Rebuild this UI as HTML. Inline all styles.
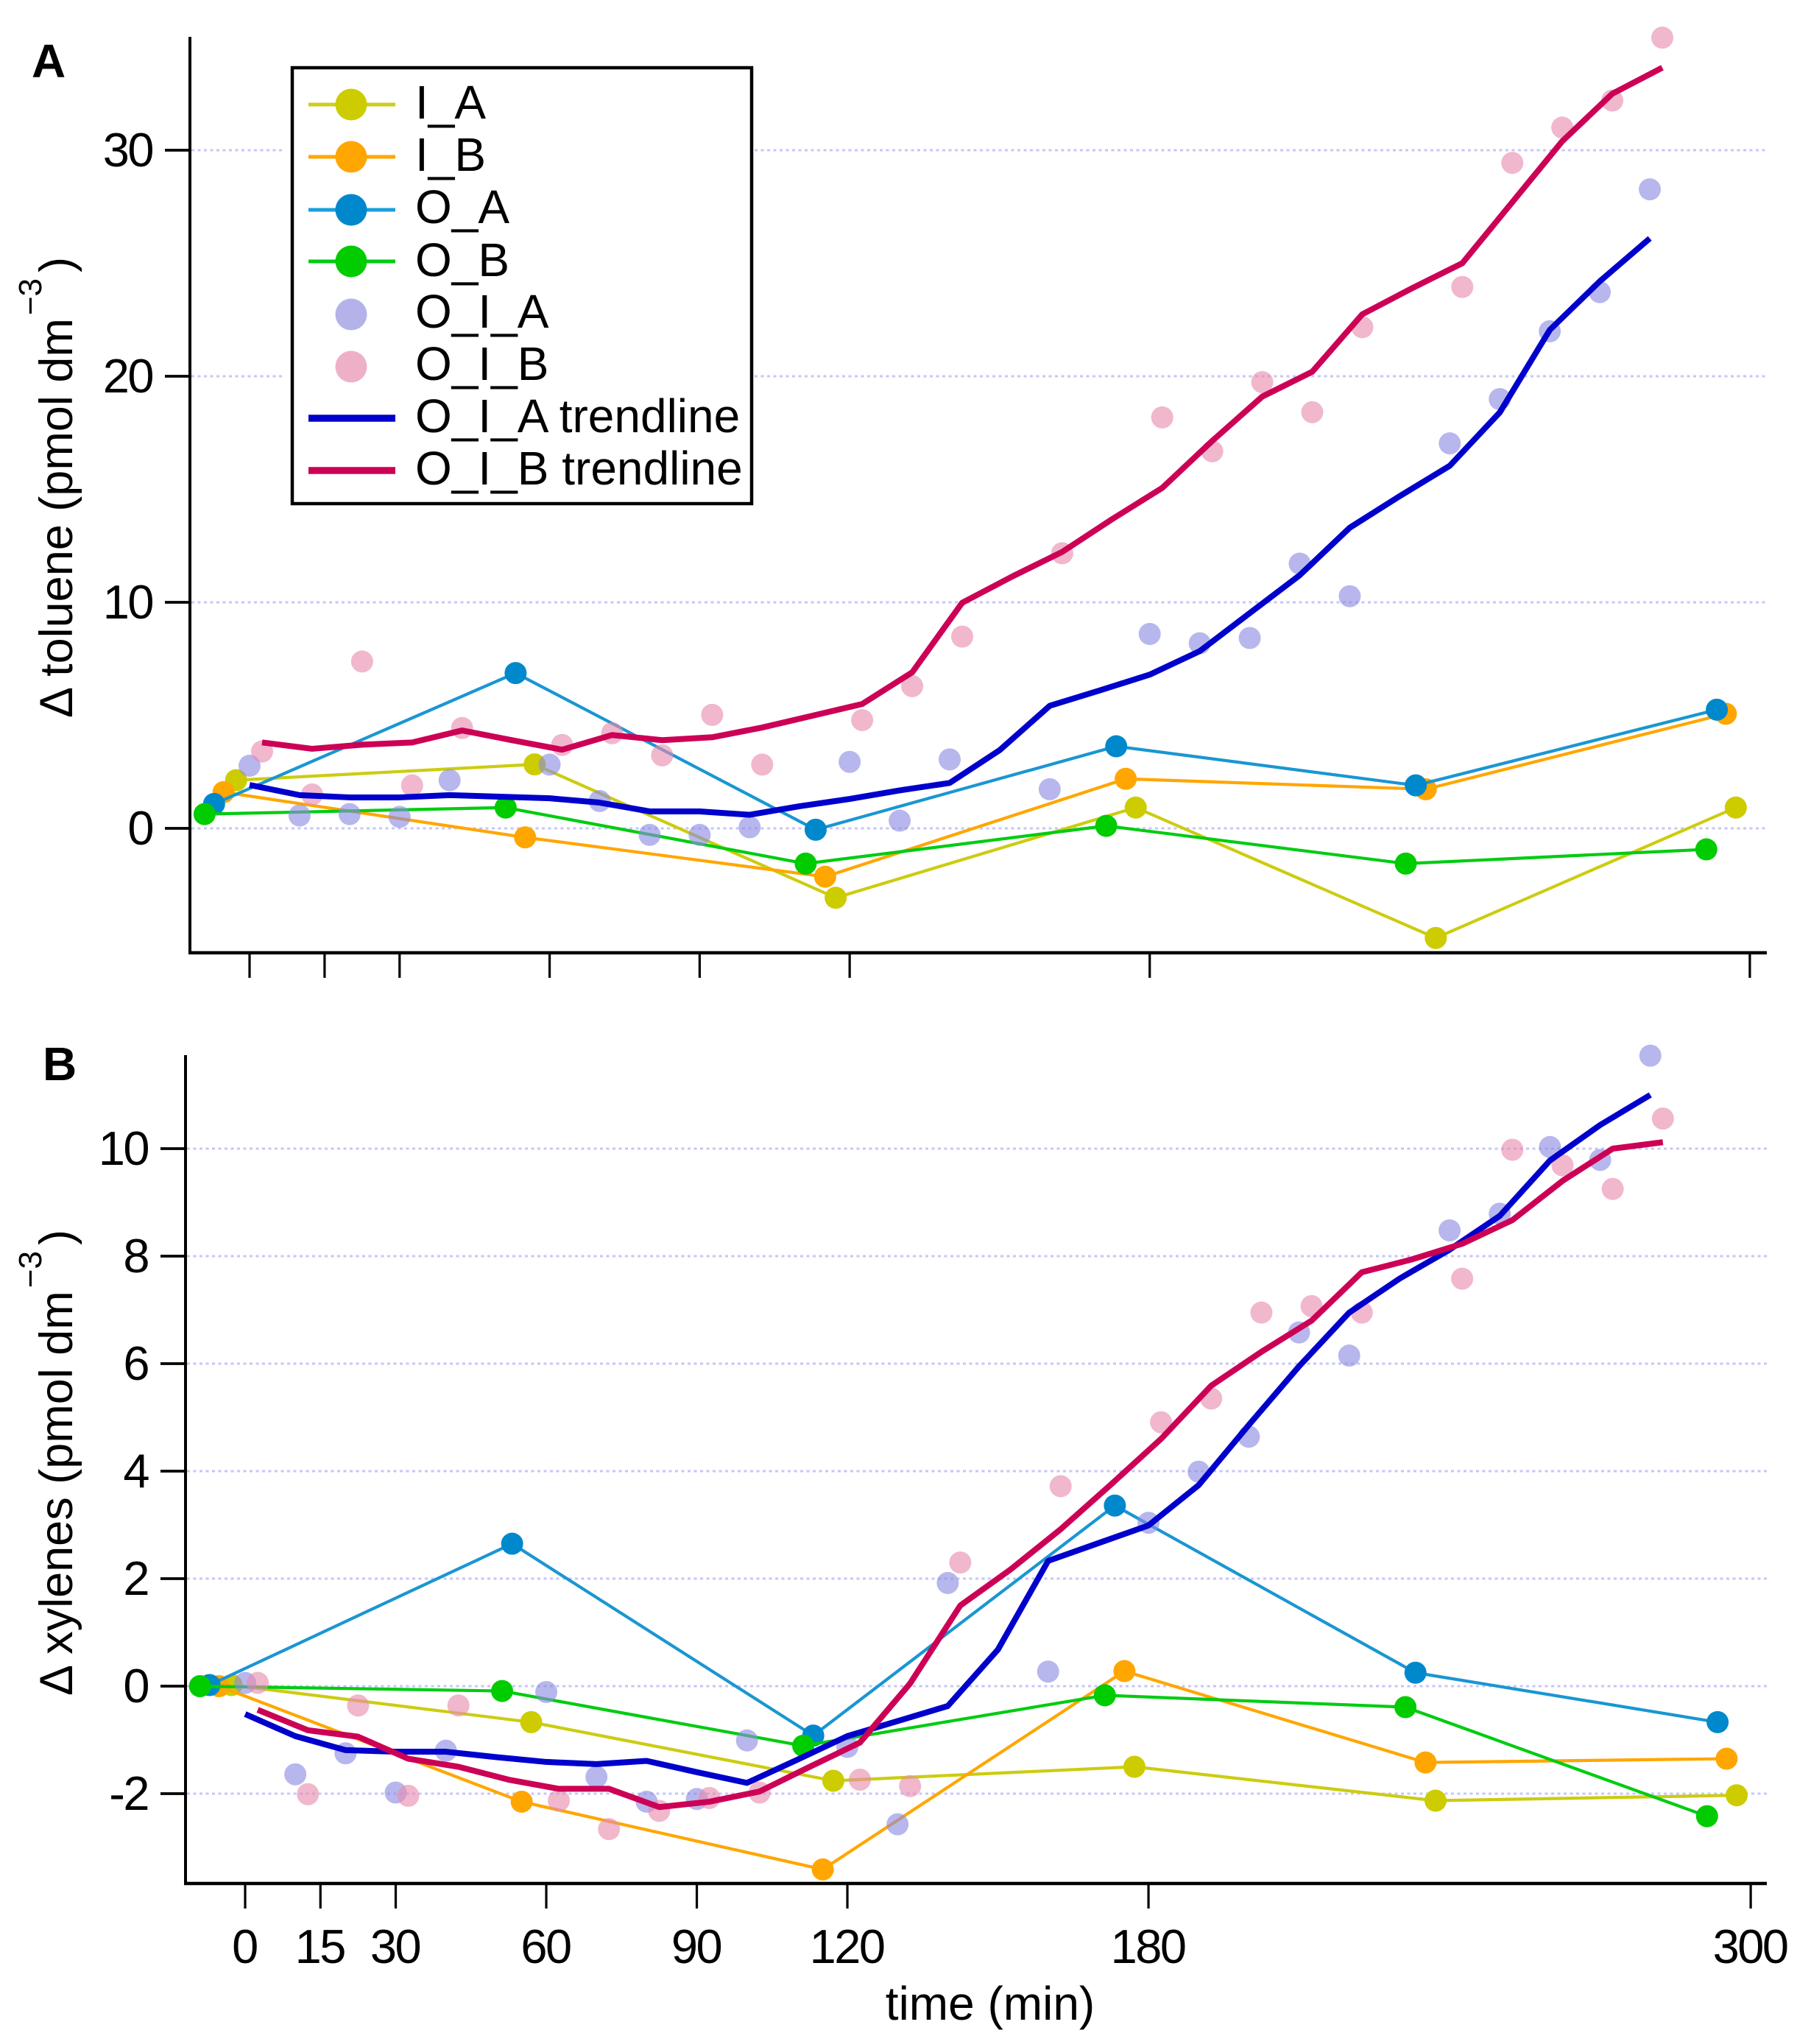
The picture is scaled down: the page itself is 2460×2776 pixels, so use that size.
<!DOCTYPE html>
<html lang="en">
<head>
<meta charset="utf-8">
<title>Change in toluene and xylenes over time</title>
<style>
html,body{margin:0;padding:0;background:#fff;}
svg{display:block;}
text{font-family:"Liberation Sans",Arial,sans-serif;fill:#000;}
</style>
</head>
<body>
<svg id="chart" width="2460" height="2776" viewBox="0 0 2460 2776" xmlns="http://www.w3.org/2000/svg">
<rect x="0" y="0" width="2460" height="2776" fill="#ffffff"/>
<g id="plot-a"></g>
<g id="plot-b"></g>

<text x="43" y="105" font-size="64" font-weight="bold">A</text>
<text x="58" y="1467" font-size="64" font-weight="bold">B</text>

<text transform="translate(98,975) rotate(-90)" font-size="63">Δ toluene (pmol dm<tspan dy="-42" dx="4" font-size="44">−3</tspan><tspan dy="42" dx="8">)</tspan></text>
<text transform="translate(98,2303) rotate(-90)" font-size="63">Δ xylenes (pmol dm<tspan dy="-42" dx="4" font-size="44">−3</tspan><tspan dy="42" dx="8">)</tspan></text>
<text x="1345" y="2743" font-size="64" text-anchor="middle">time (min)</text>

<g>
  <rect x="387" y="84" width="637" height="608" fill="#ffffff"/>
  <rect x="397" y="92" width="624" height="592" fill="#ffffff" stroke="#000" stroke-width="4.5"/>
  <g><line x1="419" y1="142" x2="537" y2="142" stroke="#cccc22" stroke-width="5"/><circle cx="477" cy="142" r="21.5" fill="#cccc00"/><text x="564" y="161" font-size="64">I_A</text></g>
  <g><line x1="419" y1="213" x2="537" y2="213" stroke="#ffa600" stroke-width="5"/><circle cx="477" cy="213" r="21.5" fill="#ffa600"/><text x="564" y="232" font-size="64">I_B</text></g>
  <g><line x1="419" y1="285" x2="537" y2="285" stroke="#1c9fdc" stroke-width="5"/><circle cx="477" cy="285" r="21.5" fill="#0088cc"/><text x="564" y="303" font-size="64">O_A</text></g>
  <g><line x1="419" y1="355" x2="537" y2="355" stroke="#00cc11" stroke-width="5"/><circle cx="477" cy="355" r="21.5" fill="#00cc00"/><text x="564" y="375" font-size="64">O_B</text></g>
  <g><circle cx="477" cy="427" r="21.5" fill="#b3b3ea"/><text x="564" y="445" font-size="64">O_I_A</text></g>
  <g><circle cx="477" cy="498" r="21.5" fill="#eeb0c8"/><text x="564" y="516" font-size="64">O_I_B</text></g>
  <g><line x1="419" y1="568" x2="537" y2="568" stroke="#0000cc" stroke-width="9.5"/><text x="564" y="587" font-size="64">O_I_A trendline</text></g>
  <g><line x1="419" y1="639" x2="537" y2="639" stroke="#cc0055" stroke-width="9.5"/><text x="564" y="658" font-size="64">O_I_B trendline</text></g>
</g>
</svg>
<script>
// ---- Shared axis data ----
const xTickLabels = [0, 15, 30, 60, 90, 120, 180, 300];
const timeScatterA = [0,10,20,30,40,60,70,80,90,100,120,130,140,160,180,190,200,210,220,240,250,260,270,280];
const timeScatterB = [2.5,12.5,22.5,32.5,42.5,62.5,72.5,82.5,92.5,102.5,122.5,132.5,142.5,162.5,182.5,192.5,202.5,212.5,222.5,242.5,252.5,262.5,272.5,282.5];
const timeTrendA = [0,10,20,30,40,50,60,70,80,90,100,110,120,130,140,150,160,170,180,190,200,210,220,230,240,250,260,270,280];
const timeTrendB = [2.5,12.5,22.5,32.5,42.5,52.5,62.5,72.5,82.5,92.5,102.5,112.5,122.5,132.5,142.5,152.5,162.5,172.5,182.5,192.5,202.5,212.5,222.5,232.5,242.5,252.5,262.5,272.5,282.5];
const timeIA = [-2.7,57,117.2,177.2,237.2,297.2];
const timeIB = [-5.2,55.1,115.1,175.2,235.2,295.2];
const timeOA = [-7.1,53.2,113.2,173.3,233.2,293.4];
const timeOB = [-9,51.2,111.2,171.3,231.2,291.3];

// ---- Panel A: toluene ----
const yTicksA = [0, 10, 20, 30];
const tolueneIA = [2.13,2.83,-3.07,0.92,-4.85,0.92];
const tolueneIB = [1.6,-0.4,-2.14,2.19,1.73,5.07];
const tolueneOA = [1.08,6.87,-0.06,3.63,1.9,5.25];
const tolueneOB = [0.63,0.92,-1.56,0.11,-1.56,-0.93];
const tolueneOIA = [2.77,0.57,0.63,0.51,2.13,2.82,1.21,-0.29,-0.29,0.05,2.94,0.34,3.05,1.73,8.6,8.19,8.42,11.71,10.27,17.03,18.99,21.99,23.72,28.27];
const tolueneOIB = [3.4,1.5,7.38,1.9,4.44,3.69,4.21,3.23,5.02,2.82,4.79,6.29,8.48,12.17,18.18,16.68,19.74,18.41,22.17,23.95,29.44,31,32.2,34.98];
const tolueneTrendOIA = [1.92,1.47,1.37,1.37,1.47,1.4,1.33,1.14,0.75,0.75,0.6,0.98,1.3,1.68,2.01,3.46,5.42,6.1,6.8,7.84,9.52,11.2,13.3,14.7,16.04,18.4,22.05,24.2,26.1];
const tolueneTrendOIB = [3.8,3.52,3.7,3.8,4.33,3.9,3.48,4.13,3.9,4.03,4.46,4.98,5.5,6.9,9.98,11.14,12.23,13.68,15.06,17.14,19.1,20.2,22.74,23.9,25,27.7,30.4,32.5,33.65];

// ---- Panel B: xylenes ----
const yTicksB = [-2, 0, 2, 4, 6, 8, 10];
const xylenesIA = [0.02,-0.67,-1.76,-1.5,-2.13,-2.03];
const xylenesIB = [0,-2.15,-3.41,0.28,-1.42,-1.35];
const xylenesOA = [0.02,2.65,-0.92,3.36,0.25,-0.67];
const xylenesOB = [0,-0.09,-1.11,-0.17,-0.39,-2.42];
const xylenesOIA = [0.06,-1.64,-1.25,-1.98,-1.2,-0.11,-1.69,-2.15,-2.1,-1.01,-1.13,-2.57,1.92,0.27,3.04,3.99,4.64,6.58,6.15,8.48,8.79,10.03,9.79,11.73];
const xylenesOIB = [0.06,-2.01,-0.36,-2.04,-0.36,-2.13,-2.66,-2.32,-2.08,-1.98,-1.74,-1.86,2.3,3.72,4.91,5.35,6.95,7.07,6.95,7.58,9.98,9.69,9.25,10.56];
const xylenesTrendOIA = [-0.52,-0.93,-1.19,-1.22,-1.22,-1.32,-1.41,-1.45,-1.39,-1.6,-1.8,-1.37,-0.93,-0.65,-0.37,0.68,2.33,2.66,2.99,3.74,4.86,5.95,6.95,7.58,8.12,8.75,9.78,10.44,11];
const xylenesTrendOIB = [-0.44,-0.82,-0.94,-1.35,-1.5,-1.74,-1.91,-1.91,-2.25,-2.15,-1.96,-1.5,-1.05,0.05,1.5,2.17,2.92,3.75,4.6,5.59,6.22,6.8,7.7,7.94,8.23,8.67,9.4,10,10.12];

const NS = 'http://www.w3.org/2000/svg';

function make(tag, attrs, parent) {
  const el = document.createElementNS(NS, tag);
  for (const k in attrs) el.setAttribute(k, attrs[k]);
  parent.appendChild(el);
  return el;
}

function drawPanel(rootId, prefix, geo, yTicks, showXLabels, seriesLines, scatters, trends) {
  const root = document.getElementById(rootId);
  const xScale = function (t) { return geo.x0 + geo.xPerMin * t; };
  const yScale = function (v) { return geo.y0 - geo.yPerUnit * v; };

  // gridlines
  yTicks.forEach(function (v) {
    const grid = make('line', {x1: geo.left + 2, x2: geo.right, y1: yScale(v), y2: yScale(v), stroke: '#c6c6fb', 'stroke-width': 3, 'stroke-dasharray': '4 4.5'}, root);
    
    
  });

  // thin series with markers
  seriesLines.forEach(function (s) {
    const pts = s.values.map(function (v, i) { return xScale(s.times[i]) + ',' + yScale(v); }).join(' ');
    const line = make('polyline', {points: pts, fill: 'none', stroke: s.lineColor, 'stroke-width': 4.2, 'stroke-linejoin': 'round'}, root);
    
    
    s.values.forEach(function (v, i) {
      const dot = make('circle', {cx: xScale(s.times[i]), cy: yScale(v), r: 15, fill: s.color}, root);
      
      
    });
  });

  // translucent scatter
  scatters.forEach(function (s) {
    s.values.forEach(function (v, i) {
      const dot = make('circle', {cx: xScale(s.times[i]), cy: yScale(v), r: 15, fill: s.color, 'fill-opacity': 0.62}, root);
      
      
    });
  });

  // trendlines
  trends.forEach(function (s) {
    const pts = s.values.map(function (v, i) { return xScale(s.times[i]) + ',' + yScale(v); }).join(' ');
    const trend = make('polyline', {points: pts, fill: 'none', stroke: s.color, 'stroke-width': 8, 'stroke-linejoin': 'round'}, root);
    
    
  });

  // axes
  const yAxis = make('line', {x1: geo.left, x2: geo.left, y1: geo.top, y2: geo.bottom + 2, stroke: '#000', 'stroke-width': 4}, root);
  
  
  const xAxis = make('line', {x1: geo.left - 2, x2: geo.right, y1: geo.bottom, y2: geo.bottom, stroke: '#000', 'stroke-width': 4.5}, root);
  
  

  // y ticks and labels
  yTicks.forEach(function (v) {
    const tick = make('line', {x1: geo.left - 34, x2: geo.left, y1: yScale(v), y2: yScale(v), stroke: '#000', 'stroke-width': 3.8}, root);
    
    
    const label = make('text', {x: geo.left - 51, y: yScale(v) + 22, 'font-size': 65, 'text-anchor': 'end', 'letter-spacing': '-2.5'}, root);
    label.textContent = String(v);
    
    
  });

  // x ticks and labels
  xTickLabels.forEach(function (t) {
    const tick = make('line', {x1: xScale(t), x2: xScale(t), y1: geo.bottom, y2: geo.bottom + 34, stroke: '#000', 'stroke-width': 3.2}, root);
    
    
    if (showXLabels) {
      const label = make('text', {x: xScale(t) - 1, y: 2666, 'font-size': 65, 'text-anchor': 'middle', 'letter-spacing': '-2.5'}, root);
      label.textContent = String(t);
      
      
    }
  });
}

const COLORS = {ia: '#cccc00', ib: '#ffa600', oa: '#0088cc', ob: '#00cc00', oia: '#8a8ae2', oib: '#e68aae', toia: '#0000cc', toib: '#cc0055'};
const LINE_COLORS = {ia: '#cccc11', ib: '#ffa600', oa: '#1a96d2', ob: '#00cc11'};

drawPanel('plot-a', 'panel-a',
  {left: 258, right: 2400, top: 50, bottom: 1294, x0: 339, xPerMin: 6.793, y0: 1125, yPerUnit: 30.7},
  yTicksA, false,
  [
    {name: 'i-a', times: timeIA, values: tolueneIA, color: COLORS.ia, lineColor: LINE_COLORS.ia},
    {name: 'i-b', times: timeIB, values: tolueneIB, color: COLORS.ib, lineColor: LINE_COLORS.ib},
    {name: 'o-a', times: timeOA, values: tolueneOA, color: COLORS.oa, lineColor: LINE_COLORS.oa},
    {name: 'o-b', times: timeOB, values: tolueneOB, color: COLORS.ob, lineColor: LINE_COLORS.ob}
  ],
  [
    {name: 'o-i-a', times: timeScatterA, values: tolueneOIA, color: COLORS.oia},
    {name: 'o-i-b', times: timeScatterB, values: tolueneOIB, color: COLORS.oib}
  ],
  [
    {name: 'o-i-a', times: timeTrendA, values: tolueneTrendOIA, color: COLORS.toia},
    {name: 'o-i-b', times: timeTrendB, values: tolueneTrendOIB, color: COLORS.toib}
  ]);

drawPanel('plot-b', 'panel-b',
  {left: 252, right: 2400, top: 1433, bottom: 2558, x0: 333, xPerMin: 6.817, y0: 2290, yPerUnit: 73},
  yTicksB, true,
  [
    {name: 'i-a', times: timeIA, values: xylenesIA, color: COLORS.ia, lineColor: LINE_COLORS.ia},
    {name: 'i-b', times: timeIB, values: xylenesIB, color: COLORS.ib, lineColor: LINE_COLORS.ib},
    {name: 'o-a', times: timeOA, values: xylenesOA, color: COLORS.oa, lineColor: LINE_COLORS.oa},
    {name: 'o-b', times: timeOB, values: xylenesOB, color: COLORS.ob, lineColor: LINE_COLORS.ob}
  ],
  [
    {name: 'o-i-a', times: timeScatterA, values: xylenesOIA, color: COLORS.oia},
    {name: 'o-i-b', times: timeScatterB, values: xylenesOIB, color: COLORS.oib}
  ],
  [
    {name: 'o-i-a', times: timeTrendA, values: xylenesTrendOIA, color: COLORS.toia},
    {name: 'o-i-b', times: timeTrendB, values: xylenesTrendOIB, color: COLORS.toib}
  ]);
</script>
</body>
</html>
